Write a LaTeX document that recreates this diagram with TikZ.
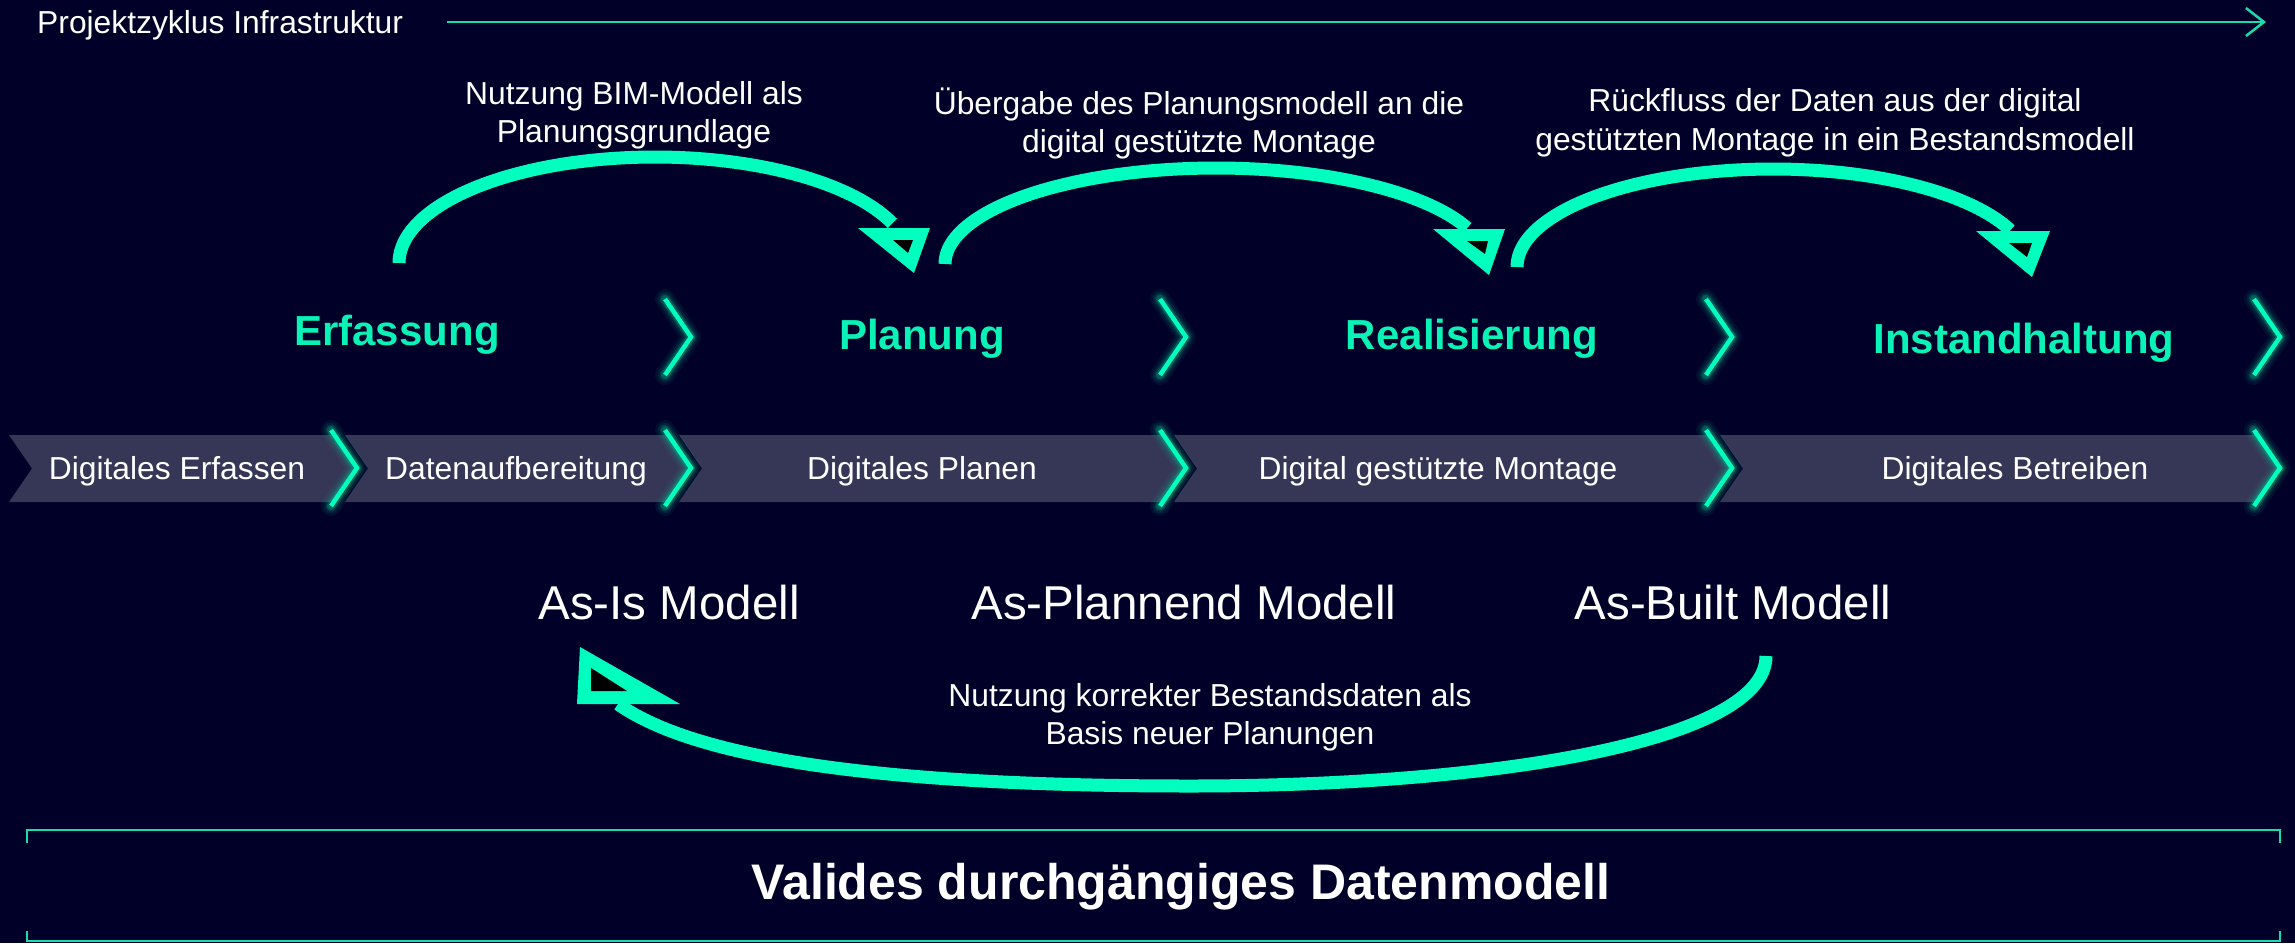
\documentclass[tikz,border=0pt]{standalone}
\usepackage{fontspec}
\setmainfont{Liberation Sans}
\usetikzlibrary{arrows.meta}
\definecolor{bg}{RGB}{0,0,40}
\definecolor{mint}{RGB}{0,255,190}
\definecolor{headmint}{RGB}{10,242,182}
\definecolor{mintline}{RGB}{25,220,170}
\definecolor{bandc}{RGB}{54,54,86}
\definecolor{bandshadow}{RGB}{6,6,28}
\definecolor{glowc}{RGB}{0,200,150}
\newcommand\glowchev[2]{%
  \foreach \w/\o in {20/0.07, 15/0.1, 11/0.16, 8/0.25}{%
    \draw[glowc, line width=\w pt, opacity=\o, line cap=round, line join=round]
      (#1-26,#2-38) -- (#1,#2) -- (#1-26,#2+38);}
  \draw[mint, line width=4.5pt, line join=miter] (#1-26,#2-38) -- (#1,#2) -- (#1-26,#2+38);}
\newcommand\bandseg[2]{%
  \fill[bandshadow] (#2,435) -- (#2+9,435) -- (#2+32,468.5) -- (#2+9,502) -- (#2,502) -- cycle;
  \fill[bandc] (#1,435) -- (#2,435) -- (#2+23,468.5) -- (#2,502) -- (#1,502) -- (#1+23,468.5) -- cycle;}
\begin{document}
\begin{tikzpicture}[x=1pt,y=-1pt,
  lbl/.style={text=white, inner sep=0pt, anchor=base, font=\fontsize{31.8}{38}\selectfont},
  heading/.style={text=headmint, inner sep=0pt, anchor=base, font=\bfseries\fontsize{42}{50}\selectfont},
  model/.style={text=white, inner sep=0pt, anchor=base, font=\fontsize{47.5}{56}\selectfont},
  flow/.style={draw=mint, line width=13pt, line cap=butt},
  thin/.style={draw=mintline, line width=2.5pt}]
\useasboundingbox (0,0) rectangle (2295,943);
\fill[bg] (0,0) rectangle (2295,943);

% top line
\node[lbl, anchor=base west] (ptitle) at (37,33) {Projektzyklus Infrastruktur};
\coordinate (arrS) at (447,22);
\coordinate (arrE) at (2266,22);
\draw[thin, -{Straight Barb[length=18pt, width=28pt, line width=2.5pt]}] (arrS) -- (arrE);

% band segments (right to left so shadows overlap)
\bandseg{1720}{2255}
\bandseg{1174}{1707}
\bandseg{679}{1161}
\bandseg{345}{666}
\bandseg{9}{332}

% chevrons
\glowchev{357}{468}
\glowchev{691}{468}
\glowchev{1186}{468}
\glowchev{1732}{468}
\glowchev{2280}{468}
\glowchev{691}{337}
\glowchev{1186}{337}
\glowchev{1732}{337}
\glowchev{2280}{337}

% band labels
\node[lbl] (b1) at (177,479) {Digitales Erfassen};
\node[lbl] (b2) at (516,479) {Datenaufbereitung};
\node[lbl] (b3) at (922,479) {Digitales Planen};
\node[lbl] (b4) at (1438,479) {Digital gestützte Montage};
\node[lbl] (b5) at (2015,479) {Digitales Betreiben};

% headings
\node[heading] (h1) at (397,345) {Erfassung};
\node[heading] (h2) at (922,349) {Planung};
\node[heading] (h3) at (1472,349) {Realisierung};
\node[heading] (h4) at (2024,353) {Instandhaltung};

% models
\node[model] (m1) at (669,619) {As-Is Modell};
\node[model] (m2) at (1184,619) {As-Plannend Modell};
\node[model] (m3) at (1733,619) {As-Built Modell};

% arrow labels
\node[lbl] (l1a) at (634,104) {Nutzung BIM-Modell als};
\node[lbl] (l1b) at (634,142) {Planungsgrundlage};
\node[lbl] (l2a) at (1199,114) {Übergabe des Planungsmodell an die};
\node[lbl] (l2b) at (1199,152) {digital gestützte Montage};
\node[lbl] (l3a) at (1835,111) {Rückfluss der Daten aus der digital};
\node[lbl] (l3b) at (1835,150) {gestützten Montage in ein Bestandsmodell};
\node[lbl] (l4a) at (1210,706) {Nutzung korrekter Bestandsdaten als};
\node[lbl] (l4b) at (1210,744) {Basis neuer Planungen};

% curved arrows
\coordinate (a1s) at (399,263);
\coordinate (a2s) at (945,264);
\coordinate (a3s) at (1517,267);
\coordinate (a4s) at (1766,656);
\draw[flow] plot[domain=180:22, samples=90] ({655+256*cos(\x)},{263-106*sin(\x)});
\draw[flow] plot[domain=180:22, samples=90] ({1216+271*cos(\x)},{264-96*sin(\x)});
\draw[flow] plot[domain=180:22, samples=90] ({1773+256*cos(\x)},{267-98*sin(\x)});
\draw[flow] (a4s) .. controls (1766,740) and (1500,786) .. (1190,786)
               .. controls (900,786) and (700,762) .. (618,704);

% arrow heads
\fill[mint] (858,228) -- (930,228) -- (914,273) -- cycle;
\fill[black] (893,240) -- (913,240) -- (908,253) -- cycle;
\fill[mint] (1433,229) -- (1505,229) -- (1489,275) -- cycle;
\fill[black] (1467,241) -- (1488,241) -- (1485,254) -- cycle;
\fill[mint] (1976,231) -- (2050,231) -- (2032,277) -- cycle;
\fill[black] (2009,243) -- (2032,243) -- (2027,257) -- cycle;
\fill[mint] (580,647) -- (577,704) -- (680,704) -- cycle;
\fill[black] (591,668) -- (591,691) -- (627,691) -- cycle;

% bottom bracket
\draw[thin] (27,843) -- (27,830) -- (2280,830) -- (2280,843);
\draw[thin] (27,931) -- (27,941) -- (2280,941) -- (2280,931);
\node[text=white, inner sep=0pt, anchor=base, font=\bfseries\fontsize{50}{60}\selectfont] (vtitle) at (1181,899) {Valides durchgängiges Datenmodell};
\end{tikzpicture}
\end{document}
